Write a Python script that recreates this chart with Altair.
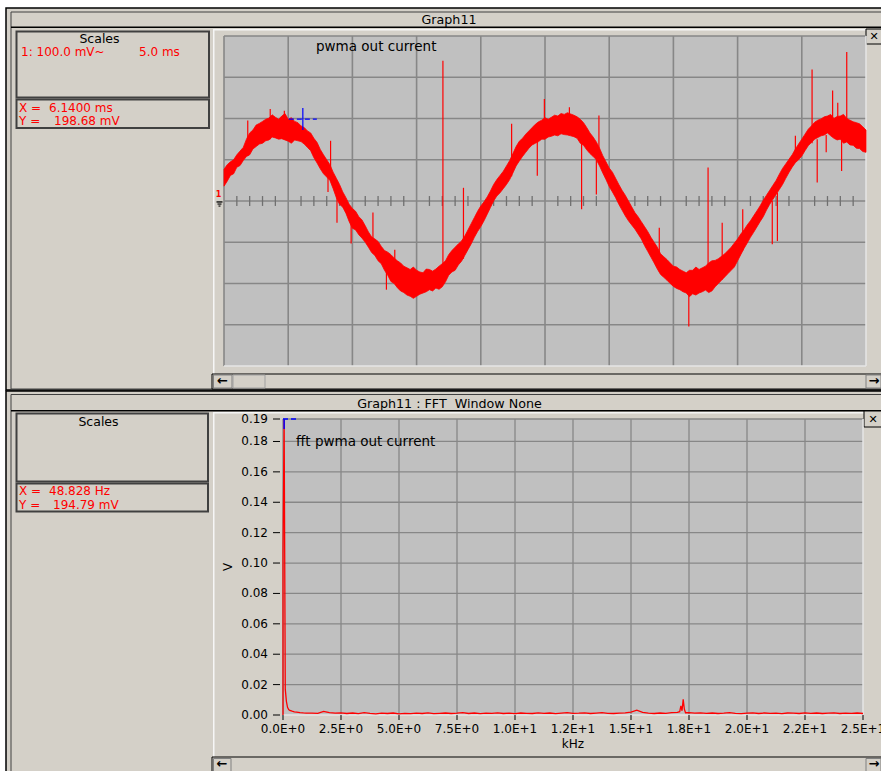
import altair as alt
import pandas as pd

FONT = "DejaVu Sans"
RED = "#FF0000"
BLUE = "#0000FF"
BG = "#D4D0C8"
PLOT_BG = "#C0C0C0"
GRID = "#878787"
EDGE = "#E6E6E6"
W, H = 881, 771

# ---------------- top graph: "pwma out current" (100 mV/div, 5 ms/div) ----------------
TOP_TITLE = "pwma out current"
TIME_RANGE_MS = [0, 50]
VOLT_RANGE_MV = [-400, 400]
TOP_GRID_T_MS = [0, 5, 10, 15, 20, 25, 30, 35, 40, 45]
TOP_GRID_V_MV = [-300, -200, -100, 0, 100, 200, 300, 400]
TOP_MINOR_T_MS = [t for t in range(1, 50) if t % 5 != 0]
TRACE_STEP_MS = 0.25
TRACE_HI_MV = [
    77, 88, 95, 100, 112, 121, 130, 150, 165, 172, 184, 188, 193, 198, 201, 209, 203, 198, 206, 212,
    198, 202, 193, 190, 182, 178, 170, 165, 152, 142, 125, 112, 100, 88, 70, 55, 40, 22, 8, -8,
    -18, -25, -38, -46, -60, -75, -87, -92, -98, -110, -120, -124, -130, -138, -145, -150, -158, -162, -166, -160,
    -168, -172, -174, -165, -166, -170, -165, -158, -152, -145, -130, -120, -112, -104, -97, -85, -70, -55, -40, -25,
    -12, -2, 10, 24, 40, 52, 62, 72, 85, 98, 115, 132, 145, 152, 162, 170, 178, 186, 192, 196,
    202, 198, 203, 208, 206, 212, 210, 214, 211, 208, 204, 198, 190, 178, 165, 155, 143, 128, 110, 95,
    80, 70, 55, 40, 26, 14, 0, -14, -28, -38, -50, -62, -74, -88, -100, -112, -128, -135, -142, -150,
    -158, -160, -166, -170, -174, -168, -168, -160, -166, -162, -158, -150, -145, -144, -140, -134, -128, -120, -112, -102,
    -92, -80, -70, -58, -48, -36, -24, -12, 2, 14, 26, 38, 50, 65, 79, 90, 101, 112, 126, 138,
    150, 162, 174, 182, 191, 196, 199, 204, 206, 210, 200, 205, 206, 210, 200, 196, 192, 190, 187, 180, 172,
]
TRACE_LO_MV = [
    36, 48, 62, 66, 82, 86, 98, 108, 112, 126, 132, 138, 140, 146, 148, 155, 153, 150, 151, 148,
    145, 140, 148, 146, 144, 138, 130, 122, 105, 92, 78, 66, 58, 50, 30, 8, -8, -15, -30, -50,
    -66, -70, -82, -90, -100, -112, -125, -132, -145, -152, -168, -180, -195, -200, -210, -218, -222, -228, -231, -236,
    -231, -226, -223, -220, -215, -218, -211, -214, -208, -196, -180, -172, -168, -155, -146, -132, -118, -104, -88, -74,
    -62, -48, -32, -16, 0, 12, 20, 30, 40, 52, 68, 85, 97, 108, 118, 128, 136, 140, 144, 150,
    150, 155, 157, 160, 158, 163, 161, 160, 158, 156, 152, 140, 135, 124, 115, 108, 100, 85, 68, 52,
    35, 22, 8, -8, -22, -36, -48, -58, -68, -80, -92, -108, -122, -136, -150, -165, -178, -185, -192, -200,
    -207, -212, -215, -220, -223, -232, -225, -228, -223, -220, -216, -222, -218, -208, -200, -192, -184, -176, -168, -160,
    -145, -130, -115, -102, -88, -76, -63, -50, -38, -22, -8, 4, 16, 28, 40, 55, 69, 82, 93, 100,
    109, 122, 134, 142, 150, 154, 158, 160, 165, 158, 152, 148, 150, 140, 143, 136, 135, 128, 127, 120, 118,
]
SPIKE_T_MS = [1.85, 3.6, 4.7, 8.1, 8.3, 8.8, 9.9, 11.6, 12.65, 13.3, 17.05, 18.65, 22.4, 24.4, 24.95,
              26.9, 27.85, 29.0, 29.2, 33.9, 36.2, 37.7, 38.8, 40.4, 42.7, 43.1, 44.5, 45.8, 46.2,
              46.9, 47.4, 47.8, 48.1, 48.5]
SPIKE_BASE_MV = [110, 150, 150, 80, 60, 20, -40, -110, -160, -190, -200, -140, 60, 150, 150,
                 160, 150, 110, 100, -170, -220, -215, -190, -120, 0, 20, 95, 140, 150,
                 160, 155, 160, 150, 145]
SPIKE_TIP_MV = [195, 223, 219, 22, 146, -53, -103, -28, -215, -118, 340, 32, 187, 61, 247,
                227, -20, 16, 207, -65, -304, 81, -53, -20, -105, -97, 158, 319, 45,
                118, 268, 238, 73, 361]
CURSOR1_X_MS = 6.14
CURSOR1_Y_MV = 198.68

# ---------------- bottom graph: FFT ----------------
FFT_TITLE = "fft pwma out current"
FFT_RANGE_KHZ = [0, 25]
FFT_RANGE_V = [0, 0.19479]
FFT_X_TICKS = [0, 2.5, 5, 7.5, 10, 12.5, 15, 17.5, 20, 22.5, 25]
FFT_X_LABELS = ["0.0E+0", "2.5E+0", "5.0E+0", "7.5E+0", "1.0E+1", "1.2E+1",
                "1.5E+1", "1.8E+1", "2.0E+1", "2.2E+1", "2.5E+1"]
FFT_X_TITLE = "kHz"
FFT_Y_TICKS = [0, 0.02, 0.04, 0.06, 0.08, 0.10, 0.12, 0.14, 0.16, 0.18, 0.19479]
FFT_Y_LABELS = ["0.00", "0.02", "0.04", "0.06", "0.08", "0.10", "0.12", "0.14", "0.16",
                "0.18", "0.19"]
FFT_Y_TITLE = "V"
FFT_GRID_F = [0, 2.5, 5, 7.5, 10, 12.5, 15, 17.5, 20, 22.5]
FFT_GRID_V = [0.02, 0.04, 0.06, 0.08, 0.10, 0.12, 0.14, 0.16, 0.18, 0.19479]
FFT_LOW_FREQ_KHZ = [0.0, 0.0, 0.0488, 0.0977, 0.1465, 0.1953, 0.2441, 0.2930, 0.3906,
                    0.4883, 0.5859, 0.7324, 0.8789, 1.0]
FFT_LOW_MAG_V = [0.0, 0.107, 0.1948, 0.0170, 0.0090, 0.0050, 0.0036, 0.0030, 0.0025,
                 0.0021, 0.0019, 0.0016, 0.0014, 0.0013]
FFT_FLOOR_START_KHZ = 1.25
FFT_FLOOR_STEP_KHZ = 0.25
FFT_FLOOR_MAG_V = [
    0.0013, 0.0011, 0.0024, 0.0016, 0.0012, 0.0014, 0.0010, 0.0013, 0.0009, 0.0015,
    0.0011, 0.0008, 0.0012, 0.0010, 0.0013, 0.0008, 0.0011, 0.0009, 0.0012, 0.0010,
    0.0014, 0.0009, 0.0011, 0.0013, 0.0010, 0.0012, 0.0016, 0.0010, 0.0013, 0.0009,
    0.0012, 0.0011, 0.0014, 0.0010, 0.0012, 0.0009, 0.0013, 0.0011, 0.0010, 0.0014,
    0.0011, 0.0013, 0.0009, 0.0012, 0.0015, 0.0011, 0.0012, 0.0014, 0.0010, 0.0013,
    0.0016, 0.0011, 0.0010, 0.0012, 0.0014, 0.0019, 0.0032, 0.0017, 0.0012, 0.0010,
    0.0013, 0.0011, 0.0015, 0.0017, 0.0103, 0.0016, 0.0012, 0.0014, 0.0011, 0.0013,
    0.0010, 0.0012, 0.0015, 0.0011, 0.0009, 0.0012, 0.0014, 0.0010, 0.0013, 0.0011,
    0.0012, 0.0009, 0.0013, 0.0012, 0.0010, 0.0014, 0.0011, 0.0013, 0.0010, 0.0012,
    0.0014, 0.0010, 0.0012, 0.0011, 0.0013, 0.0010,
]
FFT_PEAK_FREQ_KHZ = [17.10, 17.15, 17.20, 17.30, 17.35]
FFT_PEAK_MAG_V = [0.0022, 0.0060, 0.0028, 0.0038, 0.0015]
CURSOR2_X_KHZ = 0.048828
CURSOR2_Y_V = 0.19479

assert len(TRACE_HI_MV) == len(TRACE_LO_MV) == 201
assert len(SPIKE_T_MS) == len(SPIKE_BASE_MV) == len(SPIKE_TIP_MV)
assert len(FFT_FLOOR_MAG_V) == 96

# ---------------- layout (pixels) ----------------
TOP_PX = {"x": [224, 866], "y": [366, 36]}
FFT_PX = {"x": [283, 863], "y": [715, 419]}

XS = alt.Scale(domain=TIME_RANGE_MS, range=TOP_PX["x"], nice=False, zero=False)
YS = alt.Scale(domain=VOLT_RANGE_MV, range=TOP_PX["y"], nice=False, zero=False)
FXS = alt.Scale(domain=FFT_RANGE_KHZ, range=FFT_PX["x"], nice=False, zero=False)
FYS = alt.Scale(domain=FFT_RANGE_V, range=FFT_PX["y"], nice=False, zero=False)


def qx(f, s):
    return alt.X(f"{f}:Q", scale=s, axis=None)


def qy(f, s):
    return alt.Y(f"{f}:Q", scale=s, axis=None)


def vrules(values, lo, hi, xs, ys, color, width, dash=None):
    df = pd.DataFrame({"x": values, "y0": lo, "y1": hi})
    kw = {"strokeDash": dash} if dash else {}
    return alt.Chart(df).mark_rule(color=color, strokeWidth=width, **kw).encode(
        x=qx("x", xs), y=qy("y0", ys), y2="y1")


def hrules(values, lo, hi, xs, ys, color, width, dash=None):
    df = pd.DataFrame({"y": values, "x0": lo, "x1": hi})
    kw = {"strokeDash": dash} if dash else {}
    return alt.Chart(df).mark_rule(color=color, strokeWidth=width, **kw).encode(
        y=qy("y", ys), x=qx("x0", xs), x2="x1")


def bg_rect(xr, yr, xs, ys, color):
    df = pd.DataFrame({"x0": [xr[0]], "x1": [xr[1]], "y0": [yr[0]], "y1": [yr[1]]})
    return alt.Chart(df).mark_rect(color=color).encode(
        x=qx("x0", xs), x2="x1", y=qy("y0", ys), y2="y1")


# ---------------- top group ----------------
t_vals = [TRACE_STEP_MS * i for i in range(len(TRACE_HI_MV))]
band_df = pd.DataFrame({"t": t_vals, "lo": TRACE_LO_MV, "hi": TRACE_HI_MV})
spike_df = pd.DataFrame({"t": SPIKE_T_MS, "a": SPIKE_BASE_MV, "b": SPIKE_TIP_MV})

px_ms = (TOP_PX["x"][1] - TOP_PX["x"][0]) / (TIME_RANGE_MS[1] - TIME_RANGE_MS[0])
px_mv = (TOP_PX["y"][0] - TOP_PX["y"][1]) / (VOLT_RANGE_MV[1] - VOLT_RANGE_MV[0])
cw1, ch1 = 14 / px_ms, 11 / px_mv

top_group = alt.layer(
    bg_rect(TIME_RANGE_MS, VOLT_RANGE_MV, XS, YS, PLOT_BG),
    vrules(TOP_GRID_T_MS, VOLT_RANGE_MV[0], VOLT_RANGE_MV[1], XS, YS, GRID, 1.6),
    hrules(TOP_GRID_V_MV, TIME_RANGE_MS[0], TIME_RANGE_MS[1], XS, YS, GRID, 1.6),
    vrules([TIME_RANGE_MS[1]], VOLT_RANGE_MV[0], VOLT_RANGE_MV[1], XS, YS, EDGE, 1.5),
    hrules([VOLT_RANGE_MV[0]], TIME_RANGE_MS[0], TIME_RANGE_MS[1], XS, YS, EDGE, 1.5),
    vrules(TOP_MINOR_T_MS, -12, 12, XS, YS, "#707070", 1.3),
    alt.Chart(band_df).mark_area(color=RED, opacity=1, strokeWidth=0.8, stroke=RED).encode(
        x=qx("t", XS), y=qy("lo", YS), y2="hi"),
    alt.Chart(spike_df).mark_rule(color=RED, strokeWidth=1.2).encode(
        x=qx("t", XS), y=qy("a", YS), y2="b"),
    hrules([CURSOR1_Y_MV], CURSOR1_X_MS - cw1, CURSOR1_X_MS + cw1, XS, YS, BLUE, 1.2, [5, 3]),
    vrules([CURSOR1_X_MS], CURSOR1_Y_MV - ch1, CURSOR1_Y_MV + ch1, XS, YS, BLUE, 1.2),
)

# ---------------- FFT group ----------------
fft_f = (FFT_LOW_FREQ_KHZ
         + [FFT_FLOOR_START_KHZ + FFT_FLOOR_STEP_KHZ * i for i in range(len(FFT_FLOOR_MAG_V))]
         + FFT_PEAK_FREQ_KHZ)
fft_v = FFT_LOW_MAG_V + FFT_FLOOR_MAG_V + FFT_PEAK_MAG_V
fft_df = pd.DataFrame({"f": fft_f, "v": fft_v}).sort_values("f", kind="stable")
fft_df["i"] = range(len(fft_df))

px_khz = (FFT_PX["x"][1] - FFT_PX["x"][0]) / (FFT_RANGE_KHZ[1] - FFT_RANGE_KHZ[0])
px_v = (FFT_PX["y"][0] - FFT_PX["y"][1]) / (FFT_RANGE_V[1] - FFT_RANGE_V[0])

fft_line = alt.Chart(fft_df).mark_line(color=RED, strokeWidth=1.3).encode(
    x=qx("f", FXS), y=qy("v", FYS), order="i:Q")

# axis built from the tick lists, placed through the FFT scales
x_tick_df = pd.DataFrame({"f": FFT_X_TICKS, "label": FFT_X_LABELS,
                          "v0": FFT_RANGE_V[0], "v1": FFT_RANGE_V[0] - 5 / px_v})
y_tick_df = pd.DataFrame({"v": FFT_Y_TICKS, "label": FFT_Y_LABELS,
                          "f0": FFT_RANGE_KHZ[0] - 3 / px_khz, "f1": FFT_RANGE_KHZ[0] - 10 / px_khz})
x_ticks = alt.Chart(x_tick_df).mark_rule(color="#000000", strokeWidth=1).encode(
    x=qx("f", FXS), y=qy("v0", FYS), y2="v1")
x_labels = alt.Chart(x_tick_df).mark_text(
    font=FONT, fontSize=12, color="#000000", align="center", baseline="alphabetic", dy=18
).encode(x=qx("f", FXS), y=qy("v0", FYS), text="label:N")
y_ticks = alt.Chart(y_tick_df).mark_rule(color="#000000", strokeWidth=1).encode(
    y=qy("v", FYS), x=qx("f0", FXS), x2="f1")
y_labels = alt.Chart(y_tick_df).mark_text(
    font=FONT, fontSize=12, color="#000000", align="right", baseline="middle", dx=-12
).encode(x=qx("f0", FXS), y=qy("v", FYS), text="label:N")
title_df = pd.DataFrame({"f": [sum(FFT_RANGE_KHZ) / 2], "v": [FFT_RANGE_V[0]], "t": [FFT_X_TITLE],
                         "fy": [FFT_RANGE_KHZ[0] - 55 / px_khz], "vm": [sum(FFT_RANGE_V) / 2],
                         "ty": [FFT_Y_TITLE]})
x_title = alt.Chart(title_df).mark_text(
    font=FONT, fontSize=12, color="#000000", align="center", baseline="alphabetic", dy=33
).encode(x=qx("f", FXS), y=qy("v", FYS), text="t:N")
y_title = alt.Chart(title_df).mark_text(
    font=FONT, fontSize=12, color="#000000", align="center", baseline="middle", angle=270
).encode(x=qx("fy", FXS), y=qy("vm", FYS), text="ty:N")

fft_group = alt.layer(
    bg_rect(FFT_RANGE_KHZ, FFT_RANGE_V, FXS, FYS, PLOT_BG),
    vrules(FFT_GRID_F, FFT_RANGE_V[0], FFT_RANGE_V[1], FXS, FYS, GRID, 1.3),
    hrules(FFT_GRID_V, FFT_RANGE_KHZ[0], FFT_RANGE_KHZ[1], FXS, FYS, GRID, 1.3),
    vrules([FFT_RANGE_KHZ[1]], FFT_RANGE_V[0], FFT_RANGE_V[1], FXS, FYS, EDGE, 1.5),
    hrules([FFT_RANGE_V[0]], FFT_RANGE_KHZ[0], FFT_RANGE_KHZ[1], FXS, FYS, EDGE, 1.5),
    fft_line,
    x_ticks, x_labels, y_ticks, y_labels, x_title, y_title,
    hrules([CURSOR2_Y_V], FFT_RANGE_KHZ[0], CURSOR2_X_KHZ + 14 / px_khz, FXS, FYS, BLUE, 1.5, [5, 3]),
    vrules([CURSOR2_X_KHZ], CURSOR2_Y_V - 10 / px_v, CURSOR2_Y_V, FXS, FYS, BLUE, 1.5),
)

# ---------------- window chrome (pixels) ----------------
T = "transparent"
CHROME = [
    # x, x2, y, y2, fill, stroke, stroke width
    (6, 895, 8, 390, BG, "#000000", 1.5),
    (11, 895, 12, 389, T, "#404040", 1),
    (11, 895, 26.5, 28, "#000000", T, 0),
    (16.5, 209, 31.5, 97.5, T, "#404040", 2),
    (16.5, 209, 99.5, 128, T, "#404040", 2),
    (213, 214.5, 29, 374, "#F6F6F6", T, 0),
    (213, 866, 29, 30.5, "#F6F6F6", T, 0),
    (212, 895, 374, 389, BG, "#000000", 1),
    (213.5, 232, 375, 388, BG, "#808080", 1),
    (233, 265, 375, 388, BG, "#A0A0A0", 1),
    (866, 881, 375, 388, BG, "#808080", 1),
    (866, 895, 29, 44, BG, "#000000", 1),
    (6, 895, 391, 790, BG, "#000000", 1.5),
    (11, 895, 394.5, 790, T, "#404040", 1),
    (11, 895, 410, 411.5, "#000000", T, 0),
    (16.5, 208, 413.5, 481.5, T, "#404040", 2),
    (16.5, 208, 483.5, 511.5, T, "#404040", 2),
    (213, 214.5, 412, 757, "#F6F6F6", T, 0),
    (213, 864, 412, 413.5, "#F6F6F6", T, 0),
    (212, 895, 757, 790, BG, "#000000", 1),
    (213.5, 231, 758.5, 790, BG, "#808080", 1),
    (866, 881, 758.5, 790, BG, "#808080", 1),
    (864, 895, 411, 427, BG, "#000000", 1),
    # ground marker of channel 1
    (216.5, 222.5, 201.3, 202.6, "#000000", T, 0),
    (217.5, 221.5, 203.5, 204.6, "#000000", T, 0),
    (218.5, 220.5, 205.5, 206.6, "#000000", T, 0),
]
chrome_df = pd.DataFrame(CHROME, columns=["x", "x2", "y", "y2", "fill", "stroke", "sw"])
chrome = alt.Chart(chrome_df).mark_rect().encode(
    x=alt.X("x:Q", scale=None, axis=None), x2="x2",
    y=alt.Y("y:Q", scale=None, axis=None), y2="y2",
    fill=alt.Fill("fill:N", scale=None, legend=None),
    stroke=alt.Stroke("stroke:N", scale=None, legend=None),
    strokeWidth=alt.StrokeWidth("sw:Q", scale=None, legend=None),
)

NB = "\u00a0"
TEXT_LEFT = [
    ("1: 100.0 mV~", 21, 55.5, RED, 12),
    ("5.0 ms", 139, 55.5, RED, 12),
    ("X =", 19, 111.5, RED, 12),
    ("6.1400 ms", 49, 111.5, RED, 12),
    ("Y =", 19, 125, RED, 12),
    ("198.68 mV", 54, 125, RED, 12),
    (TOP_TITLE, 316, 51, "#000000", 13.5),
    ("X =", 19, 495, RED, 12),
    ("48.828 Hz", 49, 495, RED, 12),
    ("Y =", 19, 508.5, RED, 12),
    ("194.79 mV", 53, 508.5, RED, 12),
    (FFT_TITLE, 296, 446, "#000000", 13.5),
]
TEXT_CENTER = [
    ("Graph11", 449, 24, "#000000", 12.7),
    ("Scales", 99.5, 43, "#000000", 12.5),
    ("Graph11 : FFT" + NB + " Window None", 449.5, 407.5, "#000000", 12.7),
    ("Scales", 98.5, 426, "#000000", 12.5),
]
TEXT_BOLD = [
    ("\u2715", 874, 37, "#000000", 11),
    ("\u2715", 873, 419.5, "#000000", 11),
    ("\u2190", 222.5, 381, "#000000", 13),
    ("\u2192", 874, 381, "#000000", 13),
    ("\u2190", 222, 764, "#000000", 13),
    ("\u2192", 874, 764, "#000000", 13),
    ("1", 218.5, 194.5, RED, 8),
]


def text_layer(rows, align, baseline, weight="normal"):
    df = pd.DataFrame(rows, columns=["text", "x", "y", "c", "s"])
    return alt.Chart(df).mark_text(align=align, baseline=baseline, font=FONT,
                                   fontWeight=weight).encode(
        x=alt.X("x:Q", scale=None, axis=None),
        y=alt.Y("y:Q", scale=None, axis=None),
        text="text:N",
        color=alt.Color("c:N", scale=None, legend=None),
        size=alt.Size("s:Q", scale=None, legend=None),
    )


chart = alt.layer(
    chrome,
    top_group,
    fft_group,
    text_layer(TEXT_LEFT, "left", "alphabetic"),
    text_layer(TEXT_CENTER, "center", "alphabetic"),
    text_layer(TEXT_BOLD, "center", "middle", "bold"),
).resolve_scale(
    x="independent", y="independent"
).properties(
    width=W, height=H, autosize=alt.AutoSizeParams(type="none"), padding=0,
    background="#FFFFFF",
).configure_view(stroke=None)

chart.save("out.html", embed_options={"renderer": "svg", "actions": False})
